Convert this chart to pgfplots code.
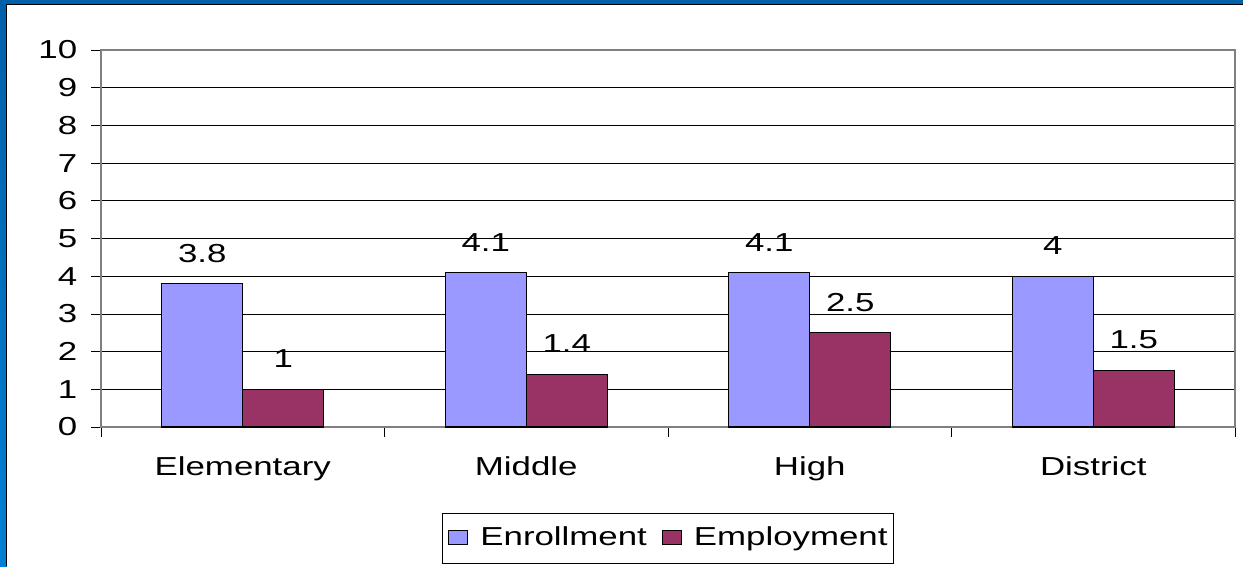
\documentclass[border=0pt]{standalone}
\usepackage{fontspec}
\setmainfont{Liberation Sans}[FakeStretch=1.34]
\usepackage{pgfplots}
\pgfplotsset{compat=1.18}
\definecolor{enroll}{RGB}{153,153,255}
\definecolor{employ}{RGB}{153,51,102}
\definecolor{frametop}{RGB}{0,96,168}
\definecolor{framebot}{RGB}{0,128,212}
\begin{document}
\fontsize{26}{31}\selectfont
\begin{tikzpicture}
% page frame (image is 1243 x 566, axis box 1134 x 377 at 101,50)
\path[use as bounding box] (-101pt,-139pt) rectangle (1142pt,427pt);
\shade[top color=frametop, bottom color=framebot] (-101pt,-139pt) rectangle (-94pt,427pt);
\fill[frametop] (-101pt,423pt) rectangle (1142pt,427pt);
\draw[black, line width=1pt] (-94.5pt,-139pt) -- (-94.5pt,422.5pt) -- (1142pt,422.5pt);
\begin{axis}[
    scale only axis,
    width=1134pt, height=377pt,
    ybar=0pt, bar width=81pt,
    ymin=0, ymax=10,
    ytick={0,...,10},
    yticklabel style={xshift=-5pt},
    xmin=-0.5, xmax=3.5,
    xtick={-0.5,0.5,1.5,2.5,3.5},
    xticklabels={},
    extra x ticks={0,1,2,3},
    extra x tick labels={Elementary,Middle,High,District},
    extra x tick style={major tick length=0pt, xticklabel style={yshift=-21pt}},
    xtick pos=bottom, ytick pos=left,
    tick align=outside,
    major tick length=10pt,
    tick style={black, line width=0.8pt},
    axis line style={draw=black!50, line width=1.2pt},
    ymajorgrids,
    grid style={black, line width=0.8pt},
    /pgf/number format/assume math mode=true,
    nodes near coords,
    every node near coord/.append style={text=black, yshift=12pt},
    legend columns=2,
    legend style={at={(0.5,-0.2958)}, anchor=center, draw=black, line width=0.8pt,
        inner xsep=6pt, inner ysep=7.5pt,
        nodes={inner xsep=0pt, inner ysep=6pt},
        /tikz/every odd column/.append style={column sep=12pt},
        /tikz/every even column/.append style={column sep=15pt}},
    legend image code/.code={\draw[#1, line width=1pt] (0pt,-6pt) rectangle (19pt,8pt);},
]
\addplot[fill=enroll, draw=black, line width=1.3pt]
    coordinates {(0,3.8) (1,4.1) (2,4.1) (3,4)};
\addplot[fill=employ, draw=black, line width=1.3pt]
    coordinates {(0,1) (1,1.4) (2,2.5) (3,1.5)};
\legend{Enrollment,Employment}
\end{axis}
\end{tikzpicture}
\end{document}
